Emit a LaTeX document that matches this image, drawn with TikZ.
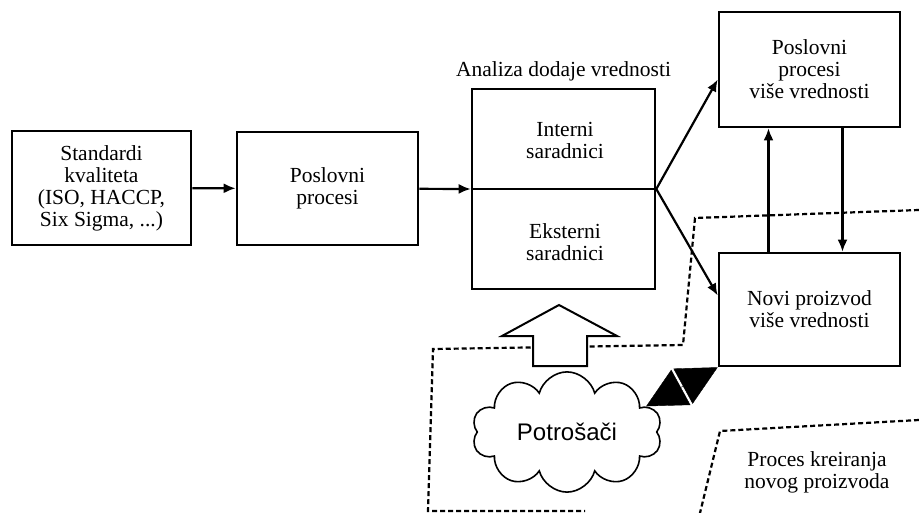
\documentclass[tikz,border=0pt]{standalone}
\usepackage{fontspec}
\setmainfont{Liberation Serif}
\newfontfamily\cloudfont{Liberation Sans}
\usetikzlibrary{shapes.symbols,arrows.meta,calc}

\begin{document}
\begin{tikzpicture}[x=1pt,y=-1pt,
  box/.style={draw,line width=2.6pt,align=center,inner sep=0pt,font=\fontsize{21.5}{22}\selectfont},
  txt/.style={align=center,inner sep=0pt,font=\fontsize{21.5}{22}\selectfont},
  flow/.style={line width=2.2pt,-{Latex[length=12pt,width=10pt]}},
  border/.style={line width=2.2pt,dash pattern=on 5pt off 3pt}]
  \useasboundingbox (0,0) rectangle (919,513);
  % boundaries of the process
  \draw[border] (919,210) -- (695,218) -- (683,345) -- (433,349) -- (428,511) -- (585,511);
  \draw[border] (919,420) -- (720,431) -- (700,513);
  \node[txt] (proclbl) at (817,472) {Proces kreiranja\\novog proizvoda};
  % boxes
  \node[box,minimum width=179pt,minimum height=114pt] (std) at (101.5,188) {Standardi\\kvaliteta\\(ISO, HACCP,\\Six Sigma, ...)};
  \node[box,minimum width=181pt,minimum height=113pt] (proc) at (327.5,188.5) {Poslovni\\procesi};
  \node[box,minimum width=183pt,minimum height=200pt] (ana) at (563.5,189) {};
  \node[txt,anchor=south] (analbl) at ([yshift=6pt]ana.north) {Analiza dodaje vrednosti};
  \draw[line width=2.6pt] (ana.west) -- (ana.east);
  \node[txt] (int) at (565,140) {Interni\\saradnici};
  \node[txt] (ext) at (565,242) {Eksterni\\saradnici};
  \node[box,minimum width=181pt,minimum height=115pt] (high) at (809.5,69.5) {Poslovni\\procesi\\više vrednosti};
  \node[box,minimum width=181pt,minimum height=113pt] (novi) at (809.5,309.5) {Novi proizvod\\više vrednosti};
  % flows
  \draw[flow] (std) -- (proc);
  \draw[flow] (proc) -- (ana.west);
  \draw[flow] (ana.east) -- ($(high.west)+(0,10)$);
  \draw[flow] (ana.east) -- ($(novi.west)+(0,-14)$);
  \draw[flow] ([xshift=-41pt]novi.north) -- ([xshift=-41pt]high.south);
  \draw[flow] ([xshift=33pt]high.south) -- ([xshift=33pt]novi.north);
  % consumers
  \node[cloud,draw,cloud puffs=10,aspect=1.7,line width=1.6pt,minimum width=190pt,minimum height=110pt,font=\cloudfont\fontsize{24}{28}\selectfont] (cons) at (567,432) {Potrošači};
  \draw[line width=2pt,fill=white] (533,366) -- (533,336) -- (502,336) -- (559,305) -- (617,336) -- (587,336) -- (587,366) -- cycle;
  \draw[line width=0.4pt,{Triangle[length=39.5pt,width=40pt]}-{Triangle[length=39.5pt,width=40pt]}] (cons.18) -- (novi.south west);
\end{tikzpicture}
\end{document}
